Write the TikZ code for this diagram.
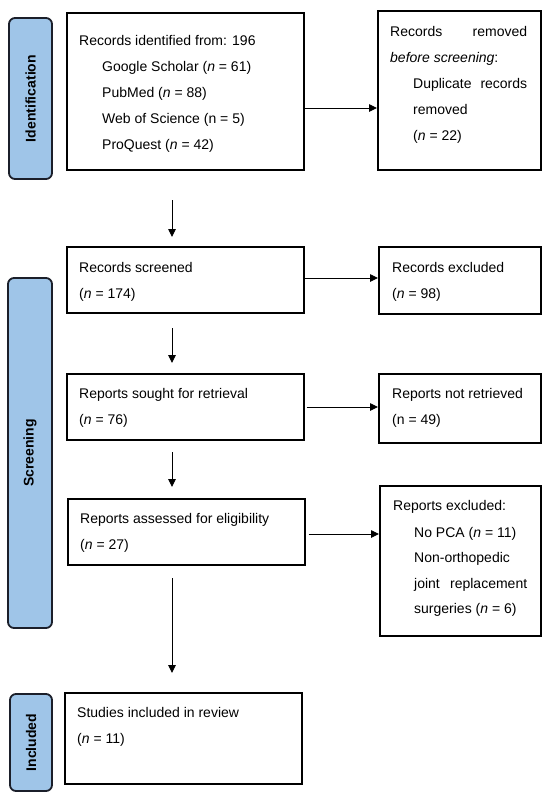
\documentclass[tikz,border=0pt]{standalone}
\usepackage{fontspec}
\setmainfont{Liberation Sans}
\usetikzlibrary{arrows.meta,calc}
\definecolor{phasefill}{HTML}{9FC5E8}
\definecolor{phaseline}{HTML}{1B1F2A}
\tikzset{
  box/.style={draw=black, line width=1.6pt, inner sep=0pt, anchor=north west},
  phase/.style={draw=phaseline, fill=phasefill, line width=1.8pt, rounded corners=6pt,
    rotate=90, inner sep=0pt, font=\fontsize{14}{14}\selectfont\bfseries},
  txt/.style={anchor=base west, inner sep=0pt, font=\fontsize{14}{14}\selectfont},
  arr/.style={line width=0.9pt, -{Triangle[length=8pt,width=7.5pt]}}
}
\begin{document}
\begin{tikzpicture}[x=1pt,y=-1pt]
\useasboundingbox (0,0) rectangle (550,798);
% phase labels
\node[phase, minimum width=161pt, minimum height=43pt] (lid) at (30.5,98.5) {Identification};
\node[phase, minimum width=350pt, minimum height=44pt] (lsc) at (30,453) {Screening};
\node[phase, minimum width=97pt, minimum height=42pt] (lin) at (31,742.5) {Included};
% boxes
\node[box, minimum width=237pt, minimum height=157pt] (idb) at (66,12) {};
\node[box, minimum width=163pt, minimum height=159pt] (rem) at (377,10) {};
\node[box, minimum width=237pt, minimum height=66pt] (scr) at (66,246) {};
\node[box, minimum width=162pt, minimum height=67pt] (exc) at (378,246) {};
\node[box, minimum width=237pt, minimum height=66pt] (sou) at (66,373) {};
\node[box, minimum width=162pt, minimum height=69pt] (nre) at (378,373) {};
\node[box, minimum width=237pt, minimum height=66pt] (ass) at (67,498) {};
\node[box, minimum width=161pt, minimum height=150pt] (rex) at (379,485) {};
\node[box, minimum width=237pt, minimum height=91pt] (inc) at (64,692) {};
% texts
\node[txt] (t1) at (79,45) {Records identified from: 196};
\node[txt] (t2) at (102,71) {Google Scholar (\textit{n} = 61)};
\node[txt] (t3) at (102,97) {PubMed (\textit{n} = 88)};
\node[txt] (t4) at (102,123) {Web of Science (n = 5)};
\node[txt] (t5) at (102,149) {ProQuest (\textit{n} = 42)};
\node[txt] (r1) at (390,36) {\makebox[137pt][s]{Records\hfill removed}};
\node[txt] (r2) at (390,62) {\textit{before screening}:};
\node[txt] (r3) at (413,88) {\makebox[114pt][s]{Duplicate\hfill records}};
\node[txt] (r4) at (413,114) {removed};
\node[txt] (r5) at (413,140) {(\textit{n} = 22)};
\node[txt] (s1) at (79,272) {Records screened};
\node[txt] (s2) at (79,298) {(\textit{n} = 174)};
\node[txt] (e1) at (392,272) {Records excluded};
\node[txt] (e2) at (392,298) {(\textit{n} = 98)};
\node[txt] (o1) at (79,398) {Reports sought for retrieval};
\node[txt] (o2) at (79,424) {(\textit{n} = 76)};
\node[txt] (n1) at (392,398) {Reports not retrieved};
\node[txt] (n2) at (392,424) {(n = 49)};
\node[txt] (a1) at (80,523) {Reports assessed for eligibility};
\node[txt] (a2) at (80,549) {(\textit{n} = 27)};
\node[txt] (x1) at (393,510) {Reports excluded:};
\node[txt] (x2) at (414,537) {No PCA (\textit{n} = 11)};
\node[txt] (x3) at (414,562) {Non-orthopedic};
\node[txt] (x4) at (414,588) {\makebox[113pt][s]{joint\hfill replacement}};
\node[txt] (x5) at (414,613) {surgeries (\textit{n} = 6)};
\node[txt] (i1) at (77,717) {Studies included in review};
\node[txt] (i2) at (77,743) {(\textit{n} = 11)};
% free arrow ends
\coordinate (v1s) at (172,200); \coordinate (v1e) at (172,237);
\coordinate (v2s) at (172,328); \coordinate (v2e) at (172,363);
\coordinate (v3s) at (172,452); \coordinate (v3e) at (172,487);
\coordinate (v4s) at (172,578); \coordinate (v4e) at (172,673);
% arrows
\draw[arr] (idb.east |- 0,108) -- (rem.west |- 0,108);
\draw[arr] (scr.east |- 0,278) -- (exc.west |- 0,278);
\draw[arr] ([xshift=2pt]sou.east |- 0,407) -- (nre.west |- 0,407);
\draw[arr] ([xshift=3pt]ass.east |- 0,534) -- (rex.west |- 0,534);
\draw[arr] (v1s) -- (v1e);
\draw[arr] (v2s) -- (v2e);
\draw[arr] (v3s) -- (v3e);
\draw[arr] (v4s) -- (v4e);
\end{tikzpicture}
\end{document}
